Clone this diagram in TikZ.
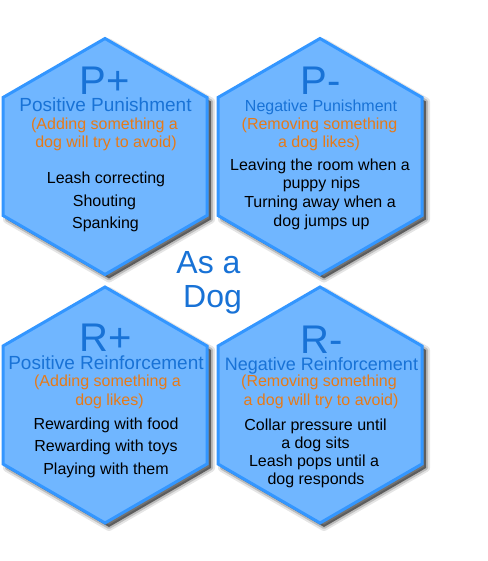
\documentclass[tikz,border=0pt]{standalone}
\usepackage{fontspec}
\setmainfont{Liberation Sans}
\definecolor{hexfill}{RGB}{112,182,255}
\definecolor{hexline}{RGB}{51,150,255}
\definecolor{titleblue}{RGB}{24,114,214}
\definecolor{orangetxt}{RGB}{230,122,24}
\tikzset{
  big/.style={anchor=base, text=titleblue, inner sep=0pt, text depth=0pt, font=\fontsize{40}{40}\selectfont},
  sub/.style={anchor=base, text=titleblue, inner sep=0pt, font=\fontsize{#1}{#1}\selectfont},
  ora/.style={anchor=base, text=orangetxt, inner sep=0pt, font=\fontsize{16}{16}\selectfont},
  blk/.style={anchor=base, text=black, inner sep=0pt, font=\fontsize{16}{16}\selectfont},
  dogtxt/.style={anchor=base, text=titleblue, inner sep=0pt, font=\fontsize{32}{32}\selectfont},
  hexbox/.style={fill=hexfill, draw=hexline, line width=3pt, line join=miter},
}
\newcommand\hexpath[2]{(#1,#2-118) -- (#1+102,#2-59) -- (#1+102,#2+59) -- (#1,#2+118) -- (#1-102,#2+59) -- (#1-102,#2-59) -- cycle}
\begin{document}
\begin{tikzpicture}[x=1pt, y=-1pt]
\fill[white] (0,0) rectangle (487,561);
\useasboundingbox (0,0) rectangle (487,561);
% shadows
\foreach \cx/\cy in {105/156.5, 320/156.5, 105/405, 320/405}{
  \begin{scope}[shift={(4,4)}]
    \draw[black, opacity=0.10, line width=8pt, line join=round] \hexpath{\cx}{\cy};
    \draw[black, opacity=0.18, line width=4pt, line join=round] \hexpath{\cx}{\cy};
    \fill[black, opacity=0.5] \hexpath{\cx}{\cy};
  \end{scope}
}
% hexagons
\foreach \cx/\cy in {105/156.5, 320/156.5, 105/405, 320/405}{
  \draw[hexbox] \hexpath{\cx}{\cy};
}
% top-left
\node[big] (pp) at (104.5,95) {P+};
\node[sub=19] (ppt) at (105.5,112) {Positive Punishment};
\node[ora] (ppo1) at (104.5,130) {(Adding something a};
\node[ora] (ppo2) at (106,148) {dog will try to avoid)};
\node[blk] (ppb1) at (106,183.5) {Leash correcting};
\node[blk] (ppb2) at (104.5,206) {Shouting};
\node[blk] (ppb3) at (105.5,228) {Spanking};
% top-right
\node[big] (pm) at (320.5,95) {P-};
\node[sub=16] (pmt) at (321,112) {Negative Punishment};
\node[ora] (pmo1) at (319.5,130) {(Removing something};
\node[ora] (pmo2) at (319,148) {a dog likes)};
\node[blk] (pmb1) at (320,171) {Leaving the room when a};
\node[blk] (pmb2) at (321.5,189) {puppy nips};
\node[blk] (pmb3) at (320,207.5) {Turning away when a};
\node[blk] (pmb4) at (321.5,226) {dog jumps up};
% centre
\node[dogtxt] (as) at (208.5,273) {As a};
\node[dogtxt] (dog) at (212.5,307) {Dog};
% bottom-left
\node[big] (rp) at (105.5,351) {R+};
\node[sub=19] (rpt) at (106,369) {Positive Reinforcement};
\node[ora] (rpo1) at (107.5,386) {(Adding something a};
\node[ora] (rpo2) at (109.5,405) {dog likes)};
\node[blk] (rpb1) at (106,429) {Rewarding with food};
\node[blk] (rpb2) at (106,451.5) {Rewarding with toys};
\node[blk] (rpb3) at (106,474) {Playing with them};
% bottom-right
\node[big] (rm) at (321.5,353) {R-};
\node[sub=18] (rmt) at (321.5,370) {Negative Reinforcement};
\node[ora] (rmo1) at (319,386.5) {(Removing something};
\node[ora] (rmo2) at (321,405) {a dog will try to avoid)};
\node[blk] (rmb1) at (315.5,430) {Collar pressure until};
\node[blk] (rmb2) at (315.5,448) {a dog sits};
\node[blk] (rmb3) at (314,466) {Leash pops until a};
\node[blk] (rmb4) at (316,484) {dog responds};
\end{tikzpicture}
\end{document}
